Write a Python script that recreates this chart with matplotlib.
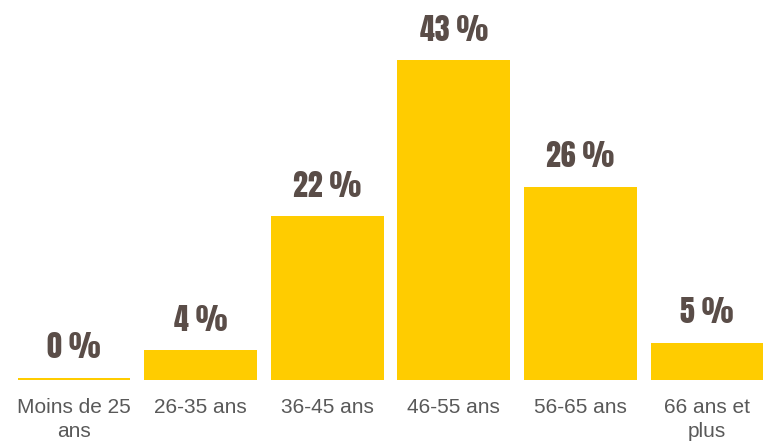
import matplotlib.pyplot as plt

# tranches d'age et repartition en %
categories = ['Moins de 25\nans', '26-35 ans', '36-45 ans', '46-55 ans', '56-65 ans', '66 ans et\nplus']
valeurs = [0.3, 4, 22, 43, 26, 5]
etiquettes = ['0 %', '4 %', '22 %', '43 %', '26 %', '5 %']

fig = plt.figure(figsize=(7.63, 4.42), dpi=100)
ax = fig.add_axes([10.7 / 763, 62 / 442, 759.6 / 763, 380 / 442])

x = range(len(categories))
barres = ax.bar(x, valeurs, width=0.89, color='#FFCC00')

for b, txt in zip(barres, etiquettes):
    ax.annotate(txt, (b.get_x() + b.get_width() / 2, b.get_height()),
                xytext=(0, 14), textcoords='offset points',
                ha='center', va='baseline', fontsize=21.5,
                family=['Anton', 'DejaVu Sans'], color='#5a4d48')

ax.set_xlim(-0.5, 5.5)
ax.set_ylim(0, 43 * 380 / 320)
ax.set_xticks(list(x))
ax.set_xticklabels(categories, fontsize=15, color='#595959',
                   family=['Liberation Sans', 'DejaVu Sans'], linespacing=1.3)
ax.tick_params(axis='x', length=0, pad=13)
ax.set_yticks([])
for s in ax.spines.values():
    s.set_visible(False)

fig.savefig('out.png', dpi=100)
